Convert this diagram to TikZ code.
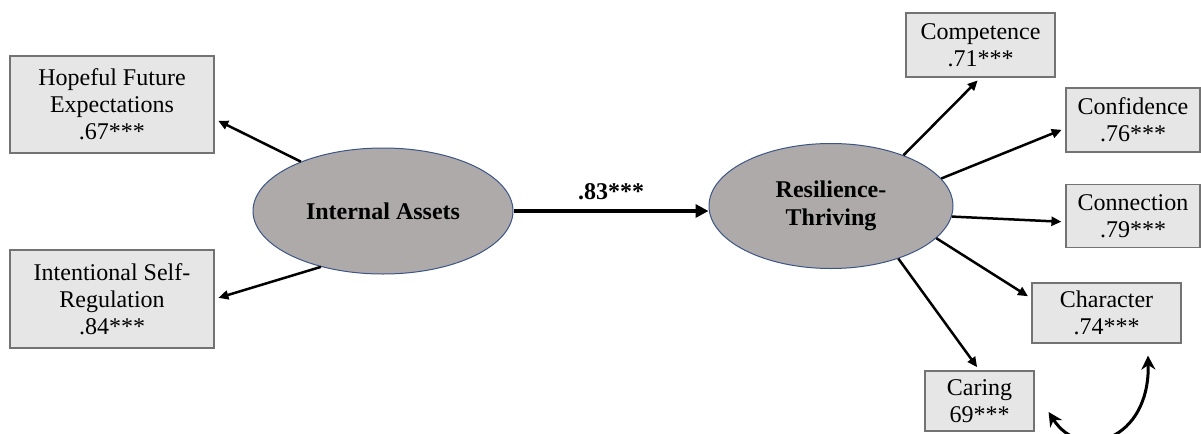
\documentclass[tikz,border=0pt]{standalone}
\usepackage{fontspec}
\setmainfont{Liberation Serif}
\usetikzlibrary{arrows.meta, shapes.geometric, calc}
\definecolor{boxgray}{RGB}{231,230,230}
\definecolor{latgray}{RGB}{174,170,170}
\definecolor{latline}{RGB}{60,85,135}

\begin{document}
\begin{tikzpicture}[x=0.5pt, y=-0.5pt]
  \tikzset{indic/.style={draw=black!55, fill=boxgray, line width=0.6pt, inner sep=0pt, align=center, font=\fontsize{12}{13.5}\selectfont}}
  \tikzset{latent/.style={ellipse, draw=latline, fill=latgray, line width=0.5pt, inner sep=0pt, align=center, font=\fontsize{12}{14}\selectfont\bfseries}}
  \tikzset{load/.style={black, line width=1.25pt, shorten >=2pt, -{Triangle[length=5pt, width=4.5pt]}}}
  \tikzset{regr/.style={black, line width=2pt, -{Triangle[length=6.5pt, width=6.5pt]}}}
  \tikzset{corr/.style={black, line width=1.5pt, {Stealth[length=7pt, width=7pt]}-{Stealth[length=7pt, width=7pt]}}}
  \useasboundingbox (0,0) rectangle (1201,434);
  % latent factors
  \node[latent, minimum width=130pt, minimum height=63pt] (ia) at (383,211) {Internal Assets};
  \node[latent, minimum width=122pt, minimum height=62.5pt] (rt) at (831,206) {Resilience-\\Thriving};
  % indicators
  \node[indic, minimum width=102pt, minimum height=48.5pt] (hf) at (112,104.5) {Hopeful Future\\Expectations\\.67***};
  \node[indic, minimum width=102pt, minimum height=49pt] (is) at (112,299) {Intentional Self-\\Regulation\\.84***};
  \node[indic, minimum width=74.5pt, minimum height=32pt] (cp) at (980.5,45) {Competence\\.71***};
  \node[indic, minimum width=67pt, minimum height=32pt] (cf) at (1133,120) {Confidence\\.76***};
  \node[indic, minimum width=67pt, minimum height=31.5pt] (cn) at (1133,216) {Connection\\.79***};
  \node[indic, minimum width=74.5pt, minimum height=30pt] (ch) at (1106.5,313) {Character\\.74***};
  \node[indic, minimum width=54.5pt, minimum height=30pt] (cr) at (979.5,401) {Caring\\69***};
  % loadings
  \draw[load] (ia.149) -- (hf.-8);
  \draw[load] (ia.222) -- (is.east);
  \draw[load] (rt.35) -- (cp.south);
  \draw[load] (rt.14) -- (cf.187);
  \draw[load] (rt.-5) -- (cn.185);
  \draw[load] (rt.-17) -- (ch.169);
  \draw[load] (rt.-38) -- (cr.north);
  % structural path
  \draw[regr] (ia.east) -- (ia.east -| rt.west) node[midway, above=1pt, font=\fontsize{12}{14}\selectfont\bfseries] (coef) {.83***};
  % residual correlation
  \draw[corr] ($(ch.south)+(41.5,12)$) .. controls +(2,85) and +(32,50) .. ($(cr.east)+(14,11)$);
\end{tikzpicture}
\end{document}
